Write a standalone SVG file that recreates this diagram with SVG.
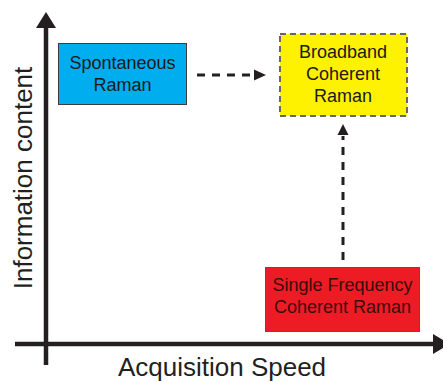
<svg xmlns="http://www.w3.org/2000/svg" width="443" height="382" viewBox="0 0 443 382">
<style>
.t{font-family:"Liberation Sans",Arial,sans-serif;font-size:18px;text-anchor:middle;fill:#1a1a1a}
.ax{stroke:#231f20;stroke-width:4.5;fill:none}
.dash{stroke:#231f20;stroke-width:3;fill:none;stroke-dasharray:8 7}
.lbl{font-family:"Liberation Sans",Arial,sans-serif;font-size:26px;text-anchor:middle;fill:#231f20}
</style>
<rect width="443" height="382" fill="#ffffff"/>
<g id="axes">
<line class="ax" x1="46" y1="365" x2="46" y2="26"/>
<path d="M36,28 L46,12 L56,28 z" fill="#231f20"/>
<line class="ax" x1="15" y1="344" x2="435" y2="344"/>
<path d="M433,334 L450,344 L433,354 z" fill="#231f20"/>
<text class="lbl" x="222" y="376">Acquisition Speed</text>
<text class="lbl" transform="translate(32,178) rotate(-90)">Information content</text>
</g>
<g id="connectors">
<line class="dash" x1="197" y1="75" x2="256" y2="75"/>
<path d="M254,69.5 L266,75 L254,80.5 z" fill="#231f20"/>
<line class="dash" x1="343" y1="260" x2="343" y2="136"/>
<path d="M337.5,135 L343,124 L348.5,135 z" fill="#231f20"/>
</g>
<g id="spontaneous">
<rect x="58.5" y="43.5" width="128" height="61" fill="#00aeef" stroke="#3d3d3d" stroke-width="1"/>
<text class="t" x="122.5" y="69">Spontaneous</text>
<text class="t" x="122.5" y="91">Raman</text>
</g>
<g id="broadband">
<rect x="280" y="34" width="127" height="82" fill="#fff200" stroke="#666666" stroke-width="2" stroke-dasharray="6 4"/>
<text class="t" x="343" y="58">Broadband</text>
<text class="t" x="343" y="80">Coherent</text>
<text class="t" x="343" y="102">Raman</text>
</g>
<g id="singlefreq">
<rect x="265.5" y="267.5" width="154" height="64" fill="#ed1c24" stroke="#555555" stroke-width="1"/>
<text class="t" x="342.5" y="291" style="fill:#3a0c0c">Single Frequency</text>
<text class="t" x="342.5" y="313" style="fill:#3a0c0c">Coherent Raman</text>
</g>
</svg>
